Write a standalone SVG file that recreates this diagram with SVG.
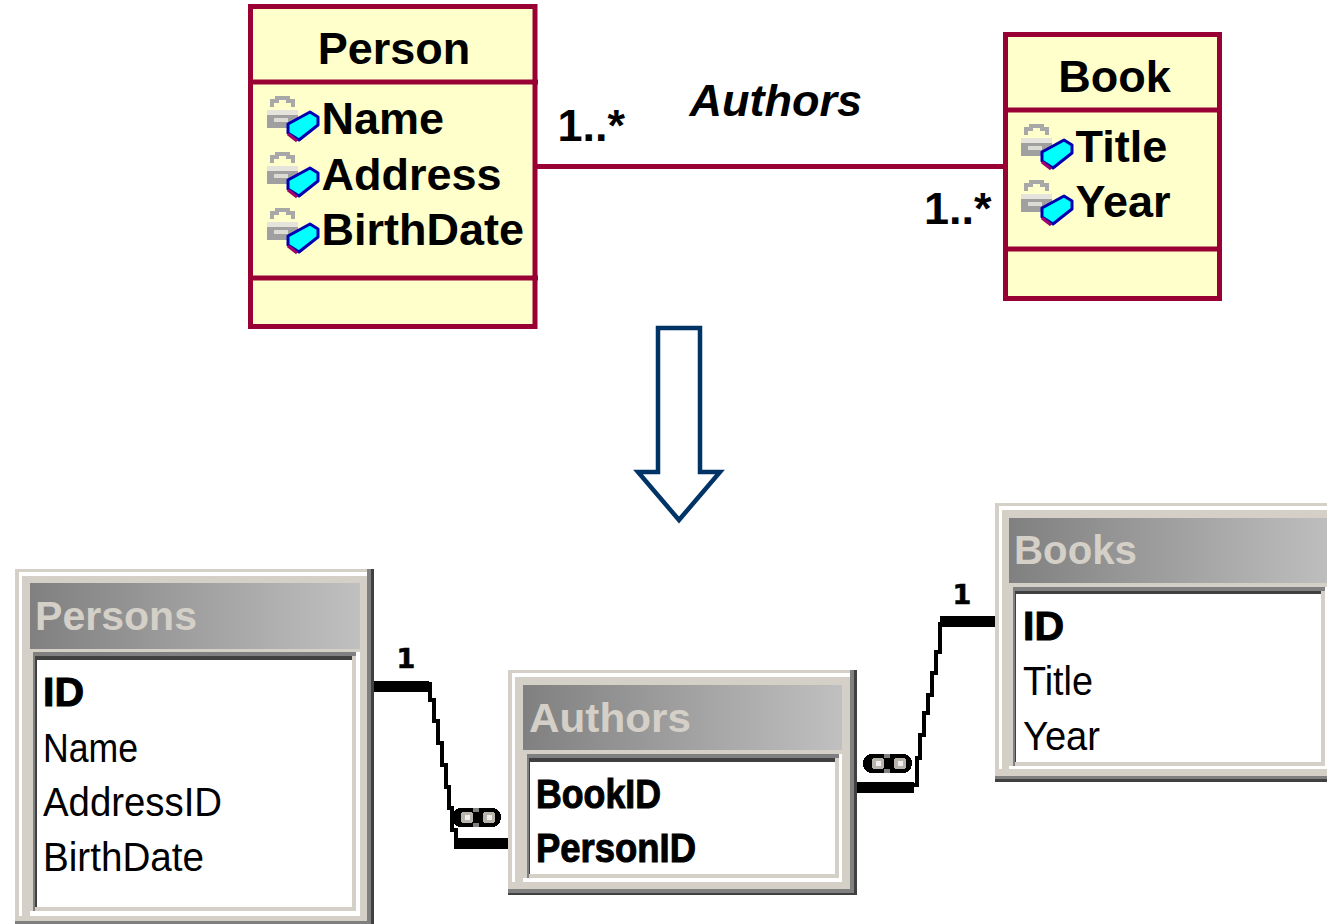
<svg xmlns="http://www.w3.org/2000/svg" xmlns:xlink="http://www.w3.org/1999/xlink" width="1327" height="924" viewBox="0 0 1327 924">
<style>
.uml{fill:#ffffcc;stroke:#990033;stroke-width:5}
.div{fill:none;stroke:#990033;stroke-width:5}
text{font-family:"Liberation Sans",Arial,sans-serif;fill:#000}
.b{font-weight:bold;font-size:45px}
.cap{font-weight:bold;font-size:40px;fill:#d4d0c8}
.f{font-size:40px}
.fb{font-size:40px;font-weight:bold;stroke:#000;stroke-width:1}
.one{font-family:"DejaVu Sans",sans-serif;font-weight:bold;font-size:27px;text-anchor:middle;stroke:#000;stroke-width:.6}
.d{fill:#404040}.g{fill:#808080}.l{fill:#d4d0c8}.w{fill:#fff}.t{fill:url(#tg)}
rect{shape-rendering:crispEdges}
.uml{shape-rendering:auto}
.th{fill:none;stroke:#000;stroke-width:4;shape-rendering:crispEdges}
</style>
<defs>
<linearGradient id="tg" x1="0" y1="0" x2="1" y2="0"><stop offset="0" stop-color="#808080"/><stop offset="1" stop-color="#c0c0c0"/></linearGradient>
<g id="icon">
<path d="M272,107V101H277V98H288V101H293V107" fill="none" stroke="#a8a8a8" stroke-width="4"/>
<rect x="267" y="110" width="31" height="18" fill="#a0a0a0"/>
<rect x="267" y="110" width="31" height="5" fill="#e4e4dc"/>
<rect x="274" y="118" width="14" height="4" fill="#dcdcd4"/>
<path d="M288,124L310,112L318,117V125L299,140L288,133Z" fill="#00ffff" stroke="#0000b0" stroke-width="3" stroke-linejoin="round"/>
<path d="M288,134L297,141" stroke="#a0006a" stroke-width="3" fill="none"/>
</g>
<g id="inf">
<rect x="0" y="0" width="49" height="19" rx="9" fill="#000"/>
<rect x="21" y="0" width="6" height="4" fill="#808080"/>
<rect x="21" y="15" width="6" height="4" fill="#808080"/>
<rect x="9" y="4" width="12" height="11" rx="3" fill="#b8b4ac"/>
<rect x="31" y="4" width="12" height="11" rx="3" fill="#b8b4ac"/>
<rect x="13" y="7" width="5" height="5" fill="#eeeeee"/>
<rect x="35" y="7" width="5" height="5" fill="#eeeeee"/>
</g>
</defs>
<rect x="0" y="0" width="1327" height="924" fill="#fff"/>

<g id="connectors">
<path id="assoc" d="M537,166.5H1004" fill="none" stroke="#990033" stroke-width="5"/>
<g id="rel-persons-authors">
<rect x="374" y="681" width="55" height="11" fill="#000"/>
<path class="th" d="M430,682V700H434V721H438V743H442V765H446V787H449V808H452V830H456V840"/>
<rect x="454" y="838" width="54" height="11" fill="#000"/>
<use xlink:href="#inf" href="#inf" x="452" y="808"/>
</g>
<g id="rel-authors-books">
<rect x="857" y="782" width="57" height="11" fill="#000"/>
<path class="th" d="M914,785H917V758H920V735H924V713H928V695H932V673H936V652H940V622"/>
<rect x="940" y="616" width="55" height="11" fill="#000"/>
<use xlink:href="#inf" href="#inf" x="863" y="754"/>
</g>
<text class="one" x="406" y="668">1</text>
<text class="one" x="962" y="604">1</text>
<text class="b" x="557.5" y="141">1..*</text>
<text class="b" x="924" y="224">1..*</text>
<text class="b" x="689.5" y="116" font-style="italic">Authors</text>
</g>

<g id="person">
<rect class="uml" x="250.5" y="6.5" width="284.5" height="320"/>
<path class="div" d="M248,82H538M248,278H538"/>
<text class="b" x="394" y="64" text-anchor="middle">Person</text>
<use xlink:href="#icon" href="#icon"/>
<use xlink:href="#icon" href="#icon" y="56"/>
<use xlink:href="#icon" href="#icon" y="112"/>
<text class="b" x="321.5" y="134">Name</text>
<text class="b" x="321.5" y="190">Address</text>
<text class="b" x="321.5" y="245">BirthDate</text>
</g>

<g id="book">
<rect class="uml" x="1005.5" y="34.5" width="214" height="264"/>
<path class="div" d="M1003,110H1222M1003,249H1222"/>
<text class="b" x="1114.5" y="92" text-anchor="middle">Book</text>
<use xlink:href="#icon" href="#icon" x="754" y="28"/>
<use xlink:href="#icon" href="#icon" x="754" y="84"/>
<text class="b" x="1075.5" y="162">Title</text>
<text class="b" x="1075.5" y="217">Year</text>
</g>

<g id="transform-arrow">
<path d="M658,328H700V472H720L679,520L638,472H658Z" fill="#fff" stroke="#003366" stroke-width="4.5"/>
</g>

<g id="persons">
<rect class="d" x="15" y="569" width="359" height="355"/>
<rect class="g" x="15" y="569" width="356" height="355"/>
<rect class="l" x="15" y="569" width="352" height="352"/>
<rect class="w" x="19" y="572" width="348" height="344"/>
<rect class="l" x="22" y="576" width="345" height="340"/>
<rect class="w" x="30" y="911" width="330" height="5"/>
<rect class="w" x="356" y="652" width="4" height="264"/>
<rect class="t" x="30" y="583" width="330" height="66"/>
<rect class="l" x="33" y="652" width="323" height="259"/>
<rect class="g" x="33" y="652" width="323" height="4"/>
<rect class="g" x="33" y="652" width="2" height="259"/>
<rect class="d" x="35" y="656" width="317" height="251"/>
<rect class="w" x="37" y="660" width="315" height="247"/>
<text class="cap" x="35" y="630" textLength="162" lengthAdjust="spacingAndGlyphs">Persons</text>
<text class="fb" x="43" y="706" textLength="41" lengthAdjust="spacingAndGlyphs">ID</text>
<text class="f" x="43" y="762" textLength="95" lengthAdjust="spacingAndGlyphs">Name</text>
<text class="f" x="43" y="816" textLength="179" lengthAdjust="spacingAndGlyphs">AddressID</text>
<text class="f" x="43" y="871" textLength="161" lengthAdjust="spacingAndGlyphs">BirthDate</text>
</g>

<g id="authors">
<rect class="d" x="508" y="670" width="349" height="225"/>
<rect class="g" x="508" y="670" width="346" height="223"/>
<rect class="l" x="508" y="670" width="342" height="219"/>
<rect class="w" x="512" y="673" width="338" height="209"/>
<rect class="l" x="515" y="677" width="335" height="205"/>
<rect class="w" x="523" y="878" width="319" height="4"/>
<rect class="w" x="839" y="754" width="3" height="128"/>
<rect class="t" x="523" y="685" width="319" height="65"/>
<rect class="l" x="527" y="754" width="312" height="124"/>
<rect class="g" x="527" y="754" width="312" height="4"/>
<rect class="g" x="527" y="754" width="2" height="124"/>
<rect class="d" x="529" y="758" width="306" height="116"/>
<rect class="w" x="530" y="762" width="305" height="112"/>
<text class="cap" x="529" y="732" textLength="162" lengthAdjust="spacingAndGlyphs">Authors</text>
<text class="fb" x="536" y="808" textLength="125" lengthAdjust="spacingAndGlyphs">BookID</text>
<text class="fb" x="536" y="862" textLength="160" lengthAdjust="spacingAndGlyphs">PersonID</text>
</g>

<g id="books">
<rect class="d" x="995" y="503" width="340" height="279"/>
<rect class="g" x="995" y="503" width="340" height="276"/>
<rect class="l" x="995" y="503" width="340" height="273"/>
<rect class="w" x="999" y="506" width="340" height="263"/>
<rect class="l" x="1002" y="510" width="340" height="259"/>
<rect class="w" x="1009" y="766" width="330" height="3"/>
<rect class="w" x="1325" y="587" width="2" height="182"/>
<rect class="t" x="1009" y="518" width="330" height="65"/>
<rect class="l" x="1013" y="587" width="312" height="179"/>
<rect class="g" x="1013" y="587" width="312" height="4"/>
<rect class="g" x="1013" y="587" width="2" height="179"/>
<rect class="d" x="1015" y="591" width="306" height="171"/>
<rect class="w" x="1016" y="594" width="305" height="168"/>
<text class="cap" x="1014" y="564" textLength="123" lengthAdjust="spacingAndGlyphs">Books</text>
<text class="fb" x="1023" y="640" textLength="41" lengthAdjust="spacingAndGlyphs">ID</text>
<text class="f" x="1023" y="695" textLength="70" lengthAdjust="spacingAndGlyphs">Title</text>
<text class="f" x="1023" y="750" textLength="77" lengthAdjust="spacingAndGlyphs">Year</text>
</g>
</svg>
